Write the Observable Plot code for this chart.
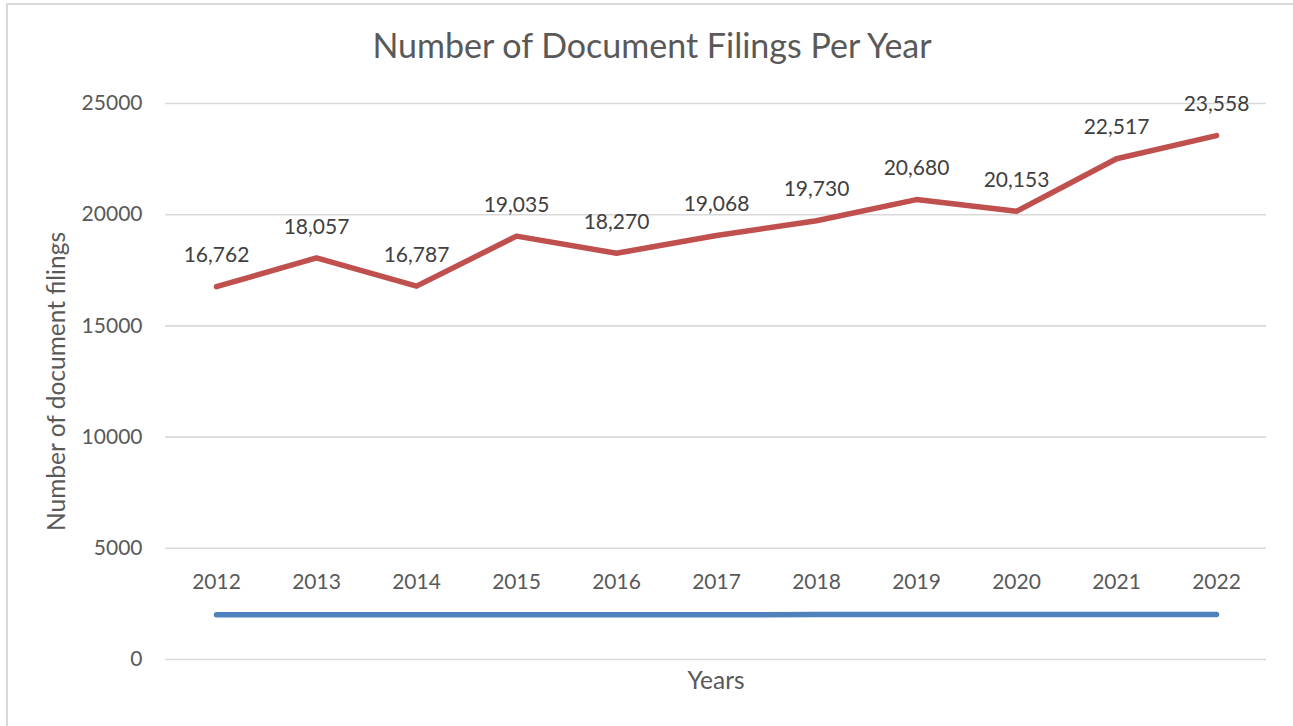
<!DOCTYPE html>
<html>
<head>
<meta charset="utf-8">
<script src="https://cdn.jsdelivr.net/npm/d3@7"></script>
<script src="https://cdn.jsdelivr.net/npm/@observablehq/plot@0.6"></script>
<style>
html, body { margin: 0; padding: 0; background: #ffffff; }
#wrap { position: relative; width: 1293px; height: 726px; overflow: hidden; }
#border { position: absolute; left: 6px; top: 3px; width: 1400px; height: 800px; border: 2px solid #d9d9d9; box-sizing: border-box; pointer-events: none; }
#chart { position: absolute; left: 0; top: 0; }
</style>
</head>
<body>
<div id="wrap"><div id="border"></div><div id="chart"></div></div>
<script>
// Data
const years = [2012, 2013, 2014, 2015, 2016, 2017, 2018, 2019, 2020, 2021, 2022];
const filings = [16762, 18057, 16787, 19035, 18270, 19068, 19730, 20680, 20153, 22517, 23558];
const yearSeriesValues = [2012, 2013, 2014, 2015, 2016, 2017, 2018, 2019, 2020, 2021, 2022];
const yTicks = [0, 5000, 10000, 15000, 20000, 25000];
const chartTitle = "Number of Document Filings Per Year";
const xTitle = "Years";
const yTitle = "Number of document filings";

const filingRows = years.map((y, i) => ({year: y, value: filings[i]}));
const yearRows = years.map((y, i) => ({year: y, value: yearSeriesValues[i]}));
const fmt = d3.format(",");

const chart = Plot.plot({
  width: 1293,
  height: 726,
  marginLeft: 165,
  marginRight: 27,
  marginTop: 103,
  marginBottom: 67,
  style: {fontFamily: "Lato, 'Noto Sans', sans-serif", fontSize: "21px", color: "#595959", background: "transparent"},
  x: {type: "point", domain: years, padding: 0.5, axis: null},
  y: {domain: [0, 25000], axis: null},
  marks: [
    Plot.gridY(yTicks, {stroke: "#d9d9d9", strokeOpacity: 1, strokeWidth: 1.6}),
    Plot.axisY({ticks: yTicks, tickSize: 0, tickPadding: 23, tickFormat: d => String(d), fill: "#595959", fontSize: 21, label: null}),
    Plot.text(years, {x: d => d, frameAnchor: "bottom", lineAnchor: "middle", dy: -77, text: d => String(d), fill: "#595959", fontSize: 21}),
    Plot.line(yearRows, {x: "year", y: "value", stroke: "#4f81bd", strokeWidth: 5.5, strokeLinecap: "round", strokeLinejoin: "round"}),
    Plot.line(filingRows, {x: "year", y: "value", stroke: "#c0504d", strokeWidth: 5.5, strokeLinecap: "round", strokeLinejoin: "round"}),
    Plot.text(filingRows, {x: "year", y: "value", text: d => fmt(d.value), dy: -31, lineAnchor: "middle", fill: "#404040", fontSize: 21}),
    Plot.text([xTitle], {frameAnchor: "bottom", textAnchor: "middle", lineAnchor: "middle", dy: 22, fill: "#595959", fontSize: 24.5}),
    Plot.text([yTitle], {frameAnchor: "left", textAnchor: "middle", lineAnchor: "middle", dx: -108, rotate: -90, fill: "#595959", fontSize: 24.5}),
    Plot.text([chartTitle], {frameAnchor: "top", textAnchor: "middle", lineAnchor: "middle", dx: -64, dy: -56, fill: "#595959", fontSize: 34})
  ]
});
document.getElementById("chart").appendChild(chart);
</script>
</body>
</html>
